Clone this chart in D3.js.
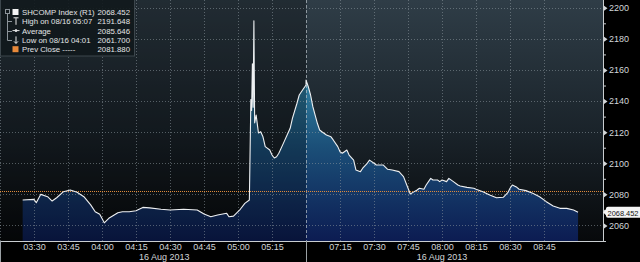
<!DOCTYPE html>
<html><head><meta charset="utf-8">
<script src="https://cdn.jsdelivr.net/npm/d3@7"></script>
<style>
html,body{margin:0;padding:0;background:#000;}
svg{display:block;font-family:"Liberation Sans",Arial,sans-serif;}
</style></head>
<body><svg id="c" width="640" height="262"></svg>
<script>
// ---- data ----
const times = ["03:25","03:30","03:31","03:33","03:36","03:38","03:40","03:43","03:46","03:49","03:52","03:55","03:57","03:59","04:01","04:03","04:07","04:09","04:12","04:15","04:18","04:21","04:26","04:30","04:36","04:42","04:45","04:48","04:51","04:55","04:56","04:58","05:01","05:03","05:05",
"05:05:40","05:06:00","05:06:20","05:06:40","05:07:00","05:07:20","05:08","05:09","05:10","05:11","05:12","05:14","05:15","05:16","05:17","05:18","05:20","05:22","05:23","05:24","05:26","05:27","05:29","05:30",
"07:00","07:01","07:02","07:03","07:05","07:06","07:07","07:09","07:11","07:12","07:14","07:15","07:16","07:18","07:19","07:21","07:22","07:24","07:25","07:27","07:28","07:30","07:31","07:34","07:36","07:38","07:41","07:43","07:45","07:46","07:47","07:49","07:50","07:52","07:53","07:55","07:56","07:58","07:59","08:00","08:02","08:03","08:05","08:07","08:08","08:11","08:14","08:15","08:18","08:21","08:24","08:27","08:29","08:30","08:31","08:33","08:34","08:37","08:40","08:43","08:46","08:49","08:52","08:55","08:58","09:00"];
const values = [2076.4,2076.8,2074.6,2080.0,2078.5,2075.7,2077.8,2081.7,2082.8,2081.3,2078.5,2073.2,2068.8,2067.2,2061.7,2064.6,2068.2,2068.8,2068.8,2069.5,2071.6,2071.3,2070.4,2069.9,2070.4,2069.9,2067.4,2065.6,2066.7,2067.8,2065.6,2066.0,2070.4,2074.2,2076.4,
2141.0,2134.0,2164.0,2136.0,2191.648,2126.0,2131.0,2119.5,2120.3,2117.0,2110.7,2108.5,2105.3,2103.4,2104.2,2106.4,2112.8,2119.3,2122.5,2128.9,2138.6,2143.9,2148.2,2150.3,
2153.5,2149.2,2143.9,2136.4,2125.7,2121.4,2120.3,2118.2,2117.0,2115.0,2110.7,2107.4,2106.4,2108.5,2105.3,2102.0,2095.7,2094.6,2096.8,2100.0,2102.0,2100.0,2098.9,2098.9,2096.1,2095.7,2094.6,2091.4,2083.9,2080.2,2081.1,2082.8,2083.9,2083.3,2086.0,2090.3,2089.2,2089.2,2088.2,2089.2,2088.2,2090.3,2088.2,2086.0,2085.4,2084.5,2083.9,2083.3,2081.7,2079.6,2077.8,2078.1,2081.1,2083.9,2086.0,2084.5,2083.3,2082.4,2080.7,2078.5,2075.3,2072.5,2071.0,2071.0,2069.9,2068.452];
const tickTimes = ["03:30","03:45","04:00","04:15","04:30","04:45","05:00","05:15","07:15","07:30","07:45","08:00","08:15","08:30","08:45"];
const gridTimes = ["03:15"].concat(tickTimes);
const yTicks = [2060,2080,2100,2120,2140,2160,2180,2200];
const yMinor = [2050,2070,2090,2110,2130,2150,2170,2190];
const prevClose = 2081.880;
const lastValue = 2068.452;
const dateLabel = "16 Aug 2013";
const legendRows = [
  {label:"SHCOMP Index (R1)", value:"2068.452", icon:"square"},
  {label:"High on 08/16 05:07", value:"2191.648", icon:"high"},
  {label:"Average", value:"2085.646", icon:"avg"},
  {label:"Low on 08/16 04:01", value:"2061.700", icon:"low"},
  {label:"Prev Close -----", value:"2081.880", icon:"orange"}
];

// trading-minute index (lunch break collapsed)
function tIdx(s){
  const p=s.split(":").map(Number);
  const m=p[0]*60+p[1]+(p[2]||0)/60;
  return m<=5*60+30 ? m-(3*60+25) : 125+m-7*60;
}

const W=640,H=262, plotR=603, plotB=241;
const svg=d3.select("#c");
const x=d3.scaleLinear().domain([-10,256]).range([0,plotR]);
const y=d3.scaleLinear().domain([2050,2205]).range([plotB,0]);
const data=times.map((t,i)=>({t:tIdx(t),v:values[i]}));
const breakX=x(125);

const defs=svg.append("defs");
const bg=defs.append("linearGradient").attr("id","bg").attr("x1",0).attr("y1",0).attr("x2",0).attr("y2",1);
bg.append("stop").attr("offset","0%").attr("stop-color","#2f3d47");
bg.append("stop").attr("offset","55%").attr("stop-color","#1a232a");
bg.append("stop").attr("offset","100%").attr("stop-color","#07090b");
const fg=defs.append("linearGradient").attr("id","fill").attr("gradientUnits","userSpaceOnUse")
  .attr("x1",0).attr("y1",y(2160)).attr("x2",0).attr("y2",plotB);
fg.append("stop").attr("offset","0%").attr("stop-color","#3386a6");
fg.append("stop").attr("offset","45%").attr("stop-color","#1b4f78");
fg.append("stop").attr("offset","100%").attr("stop-color","#0c1c52");

// background
svg.append("rect").attr("x",0).attr("y",0).attr("width",plotR).attr("height",plotB).attr("fill","url(#bg)");

// area
const area=d3.area().x(d=>x(d.t)).y0(plotB).y1(d=>y(d.v));
svg.append("path").datum(data).attr("d",area).attr("fill","url(#fill)");

// darker morning session overlay
svg.append("rect").attr("x",0).attr("y",0).attr("width",breakX).attr("height",plotB).attr("fill","#000").attr("opacity",0.28);

// grid
const grid=svg.append("g").attr("stroke","#8d979e").attr("stroke-opacity",0.55).attr("stroke-dasharray","1,2").attr("stroke-width",1);
yTicks.forEach(v=>grid.append("line").attr("x1",0).attr("x2",plotR).attr("y1",Math.round(y(v))+0.5).attr("y2",Math.round(y(v))+0.5));
gridTimes.forEach(t=>grid.append("line").attr("x1",Math.round(x(tIdx(t)))+0.5).attr("x2",Math.round(x(tIdx(t)))+0.5).attr("y1",0).attr("y2",plotB));
// session break
svg.append("line").attr("x1",Math.round(breakX)+0.5).attr("x2",Math.round(breakX)+0.5).attr("y1",0).attr("y2",plotB)
  .attr("stroke","#b8c0c6").attr("stroke-opacity",0.7).attr("stroke-dasharray","3,2");
// prev close
svg.append("line").attr("x1",0).attr("x2",plotR).attr("y1",Math.round(y(prevClose))+0.5).attr("y2",Math.round(y(prevClose))+0.5)
  .attr("stroke","#e08a3a").attr("stroke-dasharray","1,1").attr("stroke-width",1.2);

// price line
svg.append("path").datum(data).attr("d",d3.line().x(d=>x(d.t)).y(d=>y(d.v)))
  .attr("fill","none").attr("stroke","#eef0f2").attr("stroke-width",1.1).attr("stroke-linejoin","round");

// axes
const xAxis=d3.axisBottom(x).tickValues(tickTimes.map(tIdx)).tickFormat((d,i)=>tickTimes[i]).tickSize(0).tickPadding(3);
const gx=svg.append("g").attr("transform",`translate(0,${plotB})`).call(xAxis);
gx.select(".domain").remove();
gx.selectAll("text").attr("fill","#d2d6d9").attr("font-size",9).attr("font-family","Liberation Sans, Arial");
svg.append("line").attr("x1",0).attr("x2",plotR).attr("y1",plotB+0.5).attr("y2",plotB+0.5).attr("stroke","#c9cdd0");
svg.append("line").attr("x1",plotR+0.5).attr("x2",plotR+0.5).attr("y1",0).attr("y2",plotB+1).attr("stroke","#c9cdd0");
svg.append("line").attr("x1",0.5).attr("x2",0.5).attr("y1",plotB).attr("y2",H).attr("stroke","#9aa0a4");
svg.append("line").attr("x1",Math.round(breakX)+0.5).attr("x2",Math.round(breakX)+0.5).attr("y1",plotB).attr("y2",H).attr("stroke","#9aa0a4");
[x((tIdx("03:25")+125)/2), x((125+tIdx("09:00"))/2)].forEach(cx=>{
  svg.append("text").attr("x",cx).attr("y",260).attr("text-anchor","middle").attr("fill","#d2d6d9").attr("font-size",9).text(dateLabel);
});

const yAxis=d3.axisRight(y).tickValues(yTicks).tickFormat(d3.format("d")).tickSize(0).tickPadding(6);
const gy=svg.append("g").attr("transform",`translate(${plotR},0)`).call(yAxis);
gy.select(".domain").remove();
gy.selectAll("text").attr("fill","#d2d6d9").attr("font-size",9);
gy.selectAll(".tick").append("path").attr("d","M1,-2.5L4.5,0L1,2.5Z").attr("fill","#d2d6d9");
const yAxisMinor=d3.axisRight(y).tickValues(yMinor).tickFormat("").tickSize(3);
const gym=svg.append("g").attr("transform",`translate(${plotR},0)`).call(yAxisMinor);
gym.select(".domain").remove();
gym.selectAll("line").attr("stroke","#c9cdd0");

// last value label
const ly=y(lastValue);
const lg=svg.append("g").attr("transform",`translate(${plotR},${ly})`);
lg.append("path").attr("d","M0,0L4,-4L4,4Z").attr("fill","#f2f2f2");
lg.append("rect").attr("x",3).attr("y",-5.5).attr("width",36).attr("height",11).attr("rx",2).attr("fill","#f4f4f4");
lg.append("text").attr("x",4.5).attr("y",3.2).attr("font-size",8).attr("fill","#111")
  .attr("textLength",31).attr("lengthAdjust","spacingAndGlyphs").text(lastValue.toFixed(3));

// legend
const leg=svg.append("g");
leg.append("rect").attr("x",0.5).attr("y",-1).attr("width",134).attr("height",57).attr("fill","#11181c").attr("fill-opacity",0.9).attr("stroke","#3c464c");
leg.append("rect").attr("x",5.5).attr("y",9.5).attr("width",4).attr("height",4).attr("fill","none").attr("stroke","#8c949a");
leg.append("line").attr("x1",7.5).attr("x2",7.5).attr("y1",14).attr("y2",40.5).attr("stroke","#8c949a");
legendRows.forEach((r,i)=>{
  const cy=12+i*9.3;
  if(i>0&&i<4) leg.append("line").attr("x1",7.5).attr("x2",12).attr("y1",Math.round(cy)+0.5).attr("y2",Math.round(cy)+0.5).attr("stroke","#8c949a");
  const ic=leg.append("g").attr("transform",`translate(16,${cy})`).attr("stroke","#e6e6e6").attr("fill","none");
  if(r.icon==="square") leg.append("rect").attr("x",12.5).attr("y",cy-3).attr("width",6).attr("height",6).attr("fill","#f5f5f5");
  if(r.icon==="orange") leg.append("rect").attr("x",12.5).attr("y",cy-3).attr("width",6).attr("height",6).attr("fill","#e8893a");
  if(r.icon==="high"){ic.append("path").attr("d","M-2.5,-3.5H2.5M0,-3.5V3.5");}
  if(r.icon==="avg"){ic.append("path").attr("d","M-3.5,0H3.5"); ic.append("circle").attr("r",1).attr("fill","#e6e6e6");}
  if(r.icon==="low"){ic.append("path").attr("d","M0,-3.5V3.5M-2,1.5L0,3.5L2,1.5");}
  const lab=leg.append("text").attr("x",22).attr("y",cy+3).attr("font-size",7.8).attr("fill","#e2e4e6").text(r.label);
  const maxW=74;
  if(lab.node().getComputedTextLength()>maxW) lab.attr("textLength",maxW).attr("lengthAdjust","spacingAndGlyphs");
  leg.append("text").attr("x",130).attr("y",cy+3).attr("text-anchor","end").attr("font-size",7.8).attr("fill","#e2e4e6").text(r.value);
});
</script></body></html>
